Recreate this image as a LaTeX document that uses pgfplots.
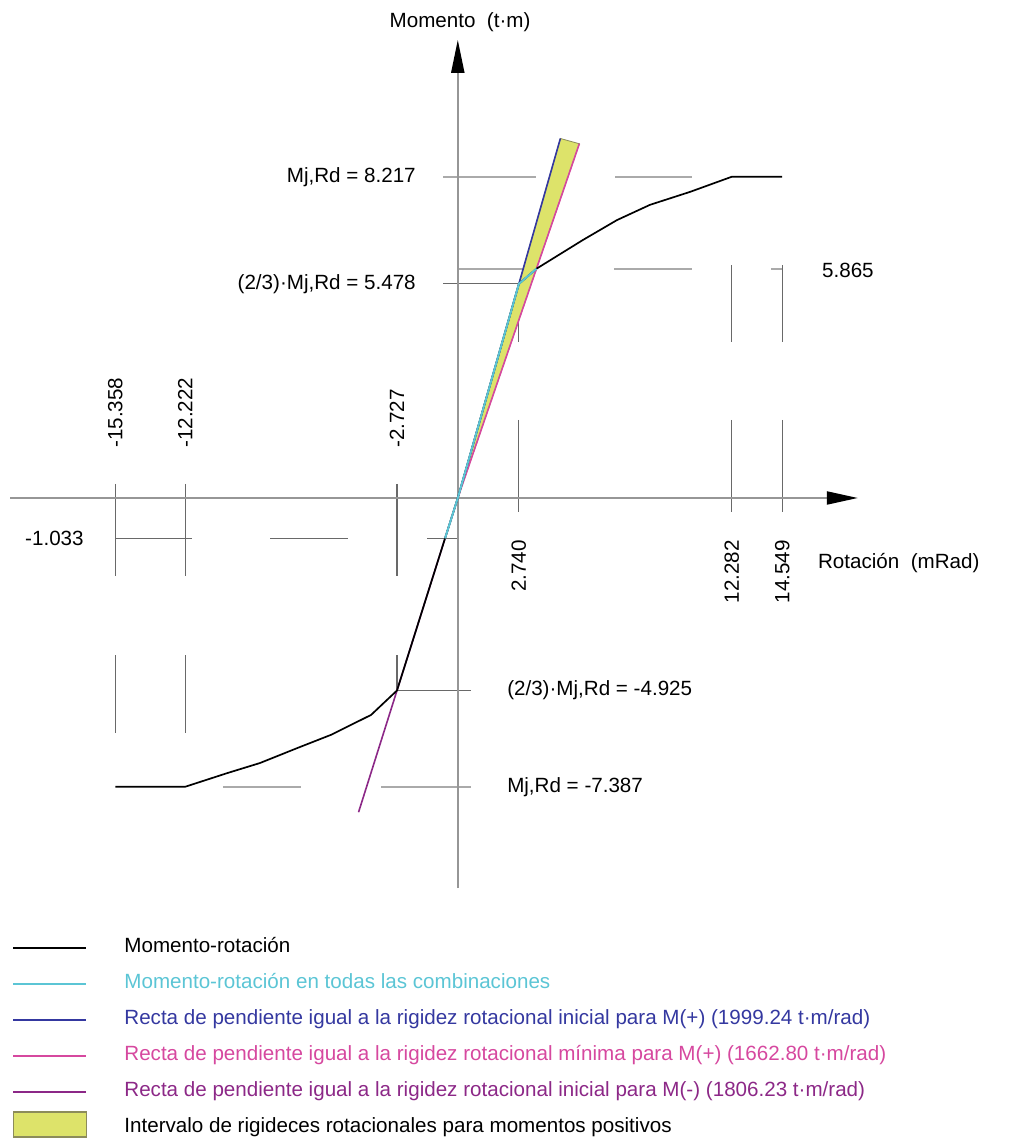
\documentclass[border=0pt]{standalone}
\usepackage{pgfplots}
\pgfplotsset{compat=1.18}
\usepackage{fontspec}
\setmainfont{Liberation Sans}
\usetikzlibrary{arrows.meta}
\definecolor{cyanl}{RGB}{91,197,213}
\definecolor{bluel}{RGB}{52,56,160}
\definecolor{pinkl}{RGB}{214,72,159}
\definecolor{purpl}{RGB}{140,40,135}
\definecolor{band}{RGB}{221,227,106}
\definecolor{bandedge}{RGB}{140,140,90}
\definecolor{lguide}{RGB}{170,170,170}
\definecolor{dguide}{RGB}{105,105,105}
\definecolor{axisg}{RGB}{150,150,150}
\pgfplotsset{
  linelegend/.style={legend image code/.code={\draw[##1] (0pt,0pt) -- (36.5pt,0pt);}},
  boxlegend/.style={legend image code/.code={\draw[##1, overlay] (0pt,-4.6pt) rectangle (36.5pt,7.9pt);}},
}
\begin{document}
\begin{tikzpicture}[font=\fontsize{10.3}{12}\selectfont]
\begin{axis}[
  x=11.15pt, y=19.545pt,
  xmin=-20.529, xmax=24.942, ymin=-16.424, ymax=12.740,
  hide axis, clip=false,
  legend cell align=left,
  legend style={at={(0.01183,0.1777)}, anchor=north west, draw=none, fill=none,
    inner sep=0pt, row sep=8pt, font=\fontsize{10.3}{12}\selectfont,
    nodes={inner sep=0pt, text height=7.5pt, text depth=2.5pt},
    /tikz/every odd column/.append style={column sep=18.5pt}},
  linelegend,
]
% frame extent (invisible)
\addplot[draw=none, forget plot] coordinates {(-20.529,-16.424) (24.942,12.740)};

% light guide lines
\addplot[lguide, line width=1pt, forget plot] coordinates {(-0.66,8.217) (3.51,8.217)};
\addplot[lguide, line width=1pt, forget plot] coordinates {(7.05,8.217) (10.50,8.217)};
\addplot[lguide, line width=1pt, forget plot] coordinates {(0,5.865) (3.527,5.865)};
\addplot[lguide, line width=1pt, forget plot] coordinates {(7.00,5.865) (10.50,5.865)};
\addplot[lguide, line width=1pt, forget plot] coordinates {(14.04,5.865) (14.549,5.865)};
\addplot[lguide, line width=1pt, forget plot] coordinates {(-10.53,-7.387) (-7.03,-7.387)};
\addplot[lguide, line width=1pt, forget plot] coordinates {(-3.44,-7.387) (0.59,-7.387)};
% dark guide lines
\addplot[dguide, line width=0.6pt, forget plot] coordinates {(-0.66,5.478) (2.740,5.478)};
\addplot[dguide, line width=0.6pt, forget plot] coordinates {(-15.358,-1.033) (-11.91,-1.033)};
\addplot[dguide, line width=0.6pt, forget plot] coordinates {(-8.42,-1.033) (-4.93,-1.033)};
\addplot[dguide, line width=0.6pt, forget plot] coordinates {(-1.38,-1.033) (0,-1.033)};
\addplot[dguide, line width=0.6pt, forget plot] coordinates {(-2.727,-4.925) (0.59,-4.925)};
% vertical guides
\addplot[dguide, line width=0.6pt, forget plot] coordinates {(-15.358,0.36) (-15.358,-2.00)};
\addplot[dguide, line width=0.6pt, forget plot] coordinates {(-15.358,-4.02) (-15.358,-6.01)};
\addplot[dguide, line width=0.6pt, forget plot] coordinates {(-12.222,0.36) (-12.222,-2.00)};
\addplot[dguide, line width=0.6pt, forget plot] coordinates {(-12.222,-4.02) (-12.222,-6.01)};
\addplot[dguide, line width=0.6pt, forget plot] coordinates {(-2.727,0.36) (-2.727,-2.00)};
\addplot[dguide, line width=0.6pt, forget plot] coordinates {(-2.727,-4.02) (-2.727,-4.925)};
\addplot[dguide, line width=0.6pt, forget plot] coordinates {(2.740,2.00) (2.740,-0.36)};
\addplot[dguide, line width=0.6pt, forget plot] coordinates {(2.740,5.478) (2.740,3.99)};
\addplot[dguide, line width=0.6pt, forget plot] coordinates {(12.282,2.00) (12.282,-0.36)};
\addplot[dguide, line width=0.6pt, forget plot] coordinates {(12.282,5.96) (12.282,3.99)};
\addplot[dguide, line width=0.6pt, forget plot] coordinates {(14.549,2.00) (14.549,-0.36)};
\addplot[dguide, line width=0.6pt, forget plot] coordinates {(14.549,5.96) (14.549,3.99)};

% axes
\addplot[axisg, line width=1pt, -{Triangle[length=15.5pt,width=6.5pt,color=black]}, forget plot]
  coordinates {(-20.08,0) (17.94,0)};
\addplot[axisg, line width=1pt, -{Triangle[length=16.5pt,width=6.5pt,color=black]}, forget plot]
  coordinates {(0,-9.98) (0,11.72)};

% stiffness band
\addplot[fill=band, draw=bandedge, line width=0.4pt, forget plot]
  coordinates {(0,0) (4.60,9.197) (5.45,9.062)} -- cycle;
\addplot[bluel, line width=0.8pt, forget plot] coordinates {(0,0) (4.60,9.197)};
\addplot[pinkl, line width=0.8pt, forget plot] coordinates {(0,0) (5.45,9.062)};
\addplot[purpl, line width=0.8pt, forget plot] coordinates {(0,0) (-4.45,-8.038)};

% moment-rotation curve
\addplot[black, line width=0.85pt, forget plot] coordinates {
  (0,0) (2.740,5.478) (3.527,5.865) (5.61,6.60) (7.14,7.11) (8.62,7.50)
  (10.41,7.83) (12.282,8.217) (14.549,8.217)};
\addplot[black, line width=0.85pt, forget plot] coordinates {
  (0,0) (-0.572,-1.033) (-2.727,-4.925) (-3.89,-5.55) (-5.69,-6.06)
  (-7.21,-6.40) (-8.87,-6.78) (-10.35,-7.04) (-12.222,-7.387) (-15.358,-7.387)};
% all combinations
\addplot[cyanl, line width=1pt, forget plot] coordinates {
  (-0.572,-1.033) (0,0) (2.740,5.478) (3.527,5.865)};

% legend
\addlegendimage{linelegend, black, line width=0.8pt}
\addlegendentry{Momento-rotación}
\addlegendimage{linelegend, cyanl, line width=1pt}
\addlegendentry{\textcolor{cyanl}{Momento-rotación en todas las combinaciones}}
\addlegendimage{linelegend, bluel, line width=1pt}
\addlegendentry{\textcolor{bluel}{Recta de pendiente igual a la rigidez rotacional inicial para M(+) (1999.24 t·m/rad)}}
\addlegendimage{linelegend, pinkl, line width=1pt}
\addlegendentry{\textcolor{pinkl}{Recta de pendiente igual a la rigidez rotacional mínima para M(+) (1662.80 t·m/rad)}}
\addlegendimage{linelegend, purpl, line width=1pt}
\addlegendentry{\textcolor{purpl}{Recta de pendiente igual a la rigidez rotacional inicial para M(-) (1806.23 t·m/rad)}}
\addlegendimage{boxlegend, fill=band, draw=bandedge, line width=0.6pt}
\addlegendentry{Intervalo de rigideces rotacionales para momentos positivos}

% texts
\node[anchor=center, inner sep=0pt] at (axis cs:0.10,12.18) {Momento\ \ (t·m)};
\node[anchor=west, inner sep=0pt] at (axis cs:16.14,-1.66) {Rotación\ \ (mRad)};
\node[anchor=east, inner sep=0pt] at (axis cs:-1.87,8.217) {Mj,Rd = 8.217};
\node[anchor=east, inner sep=0pt] at (axis cs:-1.87,5.478) {(2/3)·Mj,Rd = 5.478};
\node[anchor=west, inner sep=0pt] at (axis cs:16.32,5.83) {5.865};
\node[anchor=east, inner sep=0pt] at (axis cs:-16.76,-1.033) {-1.033};
\node[anchor=west, inner sep=0pt] at (axis cs:2.20,-4.925) {(2/3)·Mj,Rd = -4.925};
\node[anchor=west, inner sep=0pt] at (axis cs:2.20,-7.387) {Mj,Rd = -7.387};
\node[anchor=west, rotate=90, inner sep=0pt] at (axis cs:-15.358,1.28) {-15.358};
\node[anchor=west, rotate=90, inner sep=0pt] at (axis cs:-12.222,1.28) {-12.222};
\node[anchor=west, rotate=90, inner sep=0pt] at (axis cs:-2.727,1.28) {-2.727};
\node[anchor=east, rotate=90, inner sep=0pt] at (axis cs:2.740,-1.07) {2.740};
\node[anchor=east, rotate=90, inner sep=0pt] at (axis cs:12.282,-1.07) {12.282};
\node[anchor=east, rotate=90, inner sep=0pt] at (axis cs:14.549,-1.07) {14.549};
\end{axis}
\pgfresetboundingbox
\path[use as bounding box] (current axis.south west) rectangle (current axis.north east);
\end{tikzpicture}
\end{document}
